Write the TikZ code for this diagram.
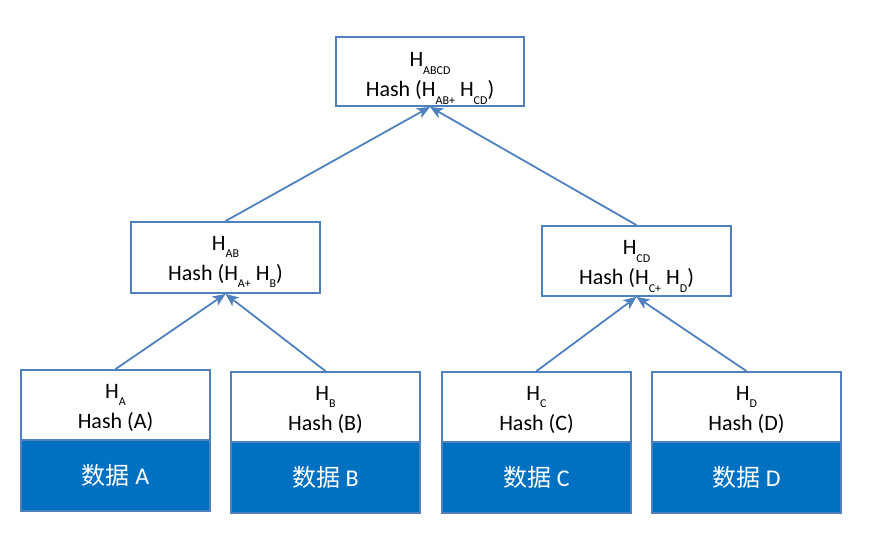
\documentclass[tikz,border=0pt]{standalone}
\usepackage{fontspec}
\setmainfont{Carlito}
\newfontfamily\cjk{Noto Sans CJK SC}
\usetikzlibrary{arrows.meta}
\definecolor{edgeblue}{RGB}{79,129,189}
\definecolor{datablue}{RGB}{0,112,192}
\newcommand\hsub[1]{\raisebox{-7.5pt}{\fontsize{12}{12}\selectfont #1}}
\tikzset{
  hashbox/.style={draw=edgeblue, line width=1.8pt, fill=white, minimum width=189pt, minimum height=70pt, inner sep=0pt, align=center, font=\fontsize{22}{30}\selectfont, text=black, text height=48pt, text depth=0pt},
  databox/.style={draw=edgeblue, line width=1.8pt, fill=datablue, minimum width=189pt, minimum height=71pt, inner sep=0pt, align=center, font=\fontsize{24}{28}\selectfont, text=white},
  link/.style={draw=edgeblue, line width=1.8pt, -{Stealth[length=13pt,width=11pt,inset=3.5pt]}}
}
\begin{document}
\begin{tikzpicture}[x=1pt,y=-1pt]
\useasboundingbox (0,0) rectangle (871,540);
% root
\node[hashbox, minimum width=188pt, minimum height=69pt, text height=51pt] (root) at (430,71.5) {H\hsub{ABCD}\\Hash (H\hsub{AB+} H\hsub{CD})};
% middle
\node[hashbox, minimum height=71pt, text height=46pt] (hab) at (225.5,257.5) {H\hsub{AB}\\Hash (H\hsub{A+} H\hsub{B})};
\node[hashbox] (hcd) at (636.5,261) {H\hsub{CD}\\Hash (H\hsub{C+} H\hsub{D})};
% leaves
\node[hashbox, text height=46pt] (ha) at (115.5,405) {H\hsub{A}\\Hash (A)};
\node[databox] (da) at (115.5,475.5) {{\cjk 数据} A};
\node[hashbox, text height=46pt] (hb) at (325.5,407) {H\hsub{B}\\Hash (B)};
\node[databox] (db) at (325.5,477.5) {{\cjk 数据} B};
\node[hashbox, text height=46pt] (hc) at (536.5,407) {H\hsub{C}\\Hash (C)};
\node[databox] (dc) at (536.5,477.5) {{\cjk 数据} C};
\node[hashbox, text height=46pt] (hd) at (746.5,407) {H\hsub{D}\\Hash (D)};
\node[databox] (dd) at (746.5,477.5) {{\cjk 数据} D};
% connectors
\draw[link] (ha.north) -- (hab.south);
\draw[link] (hb.north) -- (hab.south);
\draw[link] (hc.north) -- (hcd.south);
\draw[link] (hd.north) -- (hcd.south);
\draw[link] (hab.north) -- (root.south);
\draw[link] (hcd.north) -- (root.south);
\end{tikzpicture}
\end{document}
